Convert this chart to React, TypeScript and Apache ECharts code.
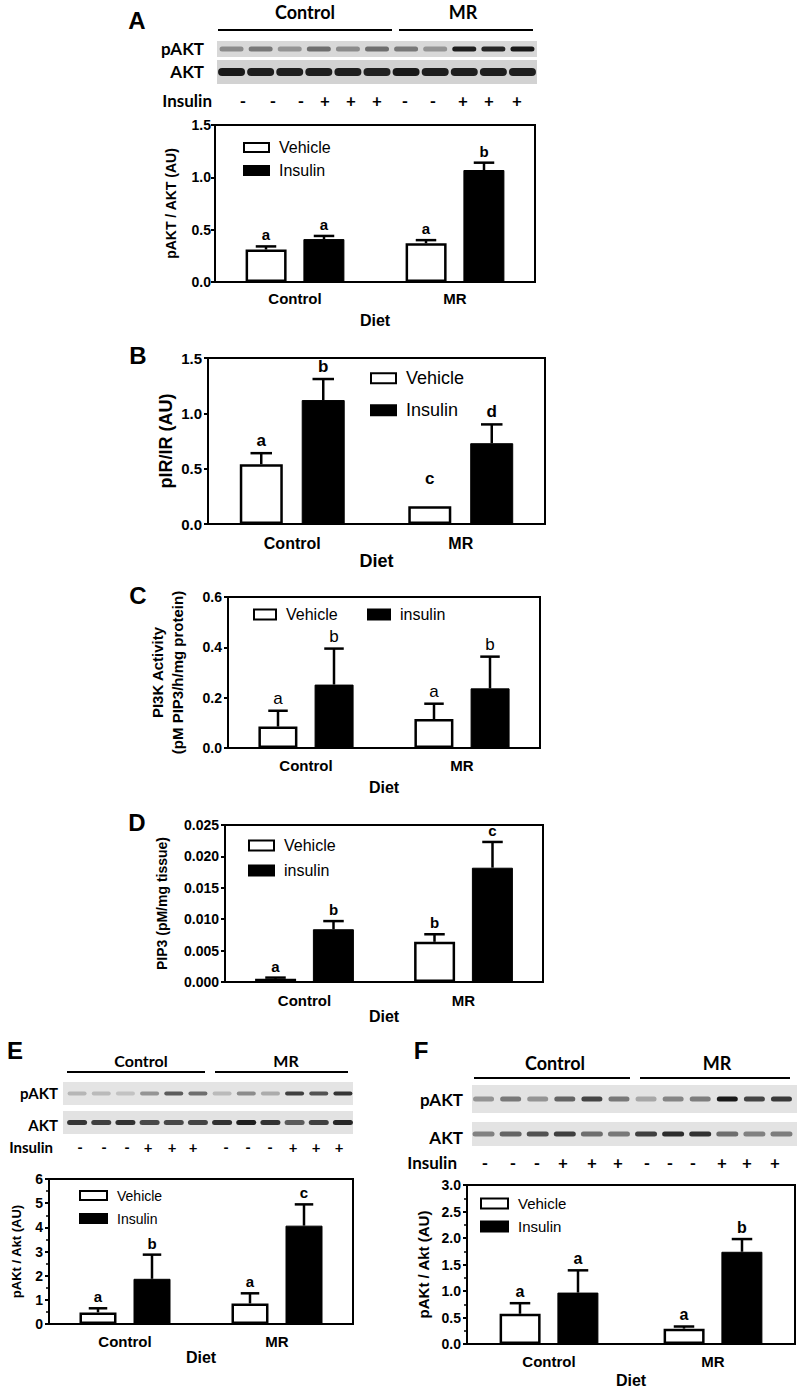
import React, { useEffect, useRef } from 'react';
import * as echarts from 'echarts';

const categories = ['Control', 'MR'];

// Panel A
const aVehicle = [0.31, 0.37];
const aVehicleErr = [0.34, 0.40];
const aInsulin = [0.41, 1.07];
const aInsulinErr = [0.44, 1.14];
const aVehicleLetters = ['a', 'a'];
const aInsulinLetters = ['a', 'b'];
const aTicks = [0, 0.5, 1.0, 1.5];

// Panel B
const bVehicle = [0.54, 0.16];
const bVehicleErr = [0.64, 0.16];
const bVehicleLetterAt = [0.64, 0.30];
const bInsulin = [1.12, 0.73];
const bInsulinErr = [1.31, 0.90];
const bVehicleLetters = ['a', 'c'];
const bInsulinLetters = ['b', 'd'];
const bTicks = [0, 0.5, 1.0, 1.5];

// Panel C
const cVehicle = [0.085, 0.115];
const cVehicleErr = [0.148, 0.176];
const cInsulin = [0.252, 0.237];
const cInsulinErr = [0.395, 0.363];
const cVehicleLetters = ['a', 'a'];
const cInsulinLetters = ['b', 'b'];
const cTicks = [0, 0.2, 0.4, 0.6];

// Panel D
const dVehicle = [0.0005, 0.0064];
const dVehicleErr = [0.0007, 0.0076];
const dInsulin = [0.0084, 0.0182];
const dInsulinErr = [0.0097, 0.0223];
const dVehicleLetters = ['a', 'b'];
const dInsulinLetters = ['b', 'c'];
const dTicks = [0, 0.005, 0.01, 0.015, 0.02, 0.025];

// Panel E
const eVehicle = [0.48, 0.85];
const eVehicleErr = [0.65, 1.27];
const eInsulin = [1.87, 4.07];
const eInsulinErr = [2.87, 4.95];
const eVehicleLetters = ['a', 'a'];
const eInsulinLetters = ['b', 'c'];
const eTicks = [0, 1, 2, 3, 4, 5, 6];

// Panel F
const fVehicle = [0.57, 0.29];
const fVehicleErr = [0.77, 0.33];
const fInsulin = [0.97, 1.74];
const fInsulinErr = [1.39, 1.98];
const fVehicleLetters = ['a', 'a'];
const fInsulinLetters = ['a', 'b'];
const fTicks = [0, 0.5, 1.0, 1.5, 2.0, 2.5, 3.0];

// Western blot band intensities (0..1) and insulin treatment per lane
const aPAKT = [0.35, 0.45, 0.3, 0.5, 0.35, 0.5, 0.45, 0.3, 0.92, 0.88, 0.95];
const aAKT = [0.95, 0.92, 0.92, 0.92, 0.92, 0.9, 0.95, 0.92, 0.92, 0.92, 0.92];
const aInsulinSigns = ['-', '-', '-', '+', '+', '+', '-', '-', '+', '+', '+'];
const ePAKT = [0.12, 0.1, 0.06, 0.3, 0.6, 0.5, 0.1, 0.35, 0.18, 0.75, 0.65, 0.8];
const eAKT = [0.8, 0.75, 0.82, 0.7, 0.7, 0.72, 0.82, 0.92, 0.82, 0.6, 0.75, 0.88];
const efInsulinSigns = ['-', '-', '-', '+', '+', '+', '-', '-', '-', '+', '+', '+'];
const fPAKT = [0.3, 0.45, 0.3, 0.55, 0.72, 0.45, 0.2, 0.38, 0.42, 0.95, 0.72, 0.78];
const fAKT = [0.4, 0.55, 0.65, 0.75, 0.5, 0.45, 0.75, 0.85, 0.82, 0.5, 0.4, 0.42];

const FONT = '"Liberation Sans", Arial, sans-serif';
const BFONT = 'Lato, "Open Sans", sans-serif';

type Panel = {
  grid: { left: number; top: number; width: number; height: number };
  veh: number[]; vehErr: number[]; ins: number[]; insErr: number[];
  vehLet: string[]; insLet: string[]; vehLetAt?: number[];
  ticks: number[]; decimals: number;
  yName: string; yNameGap: number; yNameSize: number; yNameLH?: number;
  insName: string; barW: number; gap: number;
  letSize: number; letWeight: string;
  legend: { x1: number; y1: number; x2: number; y2: number; size: number; iw: number; ih: number };
  tickFont: number; labelMargin: number; xFont: number; xNameGap: number; xNameSize: number;
  minor: boolean; yLabelMargin: number;
};

const panels: Panel[] = [
  {
    grid: { left: 215, top: 125, width: 320, height: 157 },
    veh: aVehicle, vehErr: aVehicleErr, ins: aInsulin, insErr: aInsulinErr,
    vehLet: aVehicleLetters, insLet: aInsulinLetters, ticks: aTicks, decimals: 1,
    yName: 'pAKT / AKT (AU)', yNameGap: 36, yNameSize: 14, insName: 'Insulin', barW: 41, gap: 17,
    letSize: 15, letWeight: 'bold',
    legend: { x1: 243, y1: 149, x2: 243, y2: 172, size: 16, iw: 25, ih: 9 },
    tickFont: 14, labelMargin: 9, xFont: 15, xNameGap: 30, xNameSize: 16, minor: false, yLabelMargin: 4,
  },
  {
    grid: { left: 208, top: 358, width: 337, height: 166 },
    veh: bVehicle, vehErr: bVehicleErr, ins: bInsulin, insErr: bInsulinErr,
    vehLet: bVehicleLetters, insLet: bInsulinLetters, vehLetAt: bVehicleLetterAt, ticks: bTicks, decimals: 1,
    yName: 'pIR/IR (AU)', yNameGap: 27, yNameSize: 18, insName: 'Insulin', barW: 43, gap: 19,
    letSize: 17, letWeight: 'bold',
    legend: { x1: 370, y1: 380, x2: 370, y2: 412, size: 18, iw: 25, ih: 10 },
    tickFont: 15, labelMargin: 11, xFont: 16, xNameGap: 21, xNameSize: 18, minor: false, yLabelMargin: 6,
  },
  {
    grid: { left: 228, top: 597, width: 312, height: 151 },
    veh: cVehicle, vehErr: cVehicleErr, ins: cInsulin, insErr: cInsulinErr,
    vehLet: cVehicleLetters, insLet: cInsulinLetters, ticks: cTicks, decimals: 1,
    yName: 'PI3K Activity\n(pM PIP3/h/mg protein)', yNameGap: 41, yNameSize: 15, yNameLH: 20,
    insName: 'insulin', barW: 39, gap: 17,
    letSize: 17, letWeight: 'normal',
    legend: { x1: 253, y1: 616, x2: 367, y2: 616, size: 16, iw: 22, ih: 10 },
    tickFont: 14, labelMargin: 10, xFont: 15, xNameGap: 31, xNameSize: 16, minor: false, yLabelMargin: 6,
  },
  {
    grid: { left: 225, top: 825, width: 318, height: 157 },
    veh: dVehicle, vehErr: dVehicleErr, ins: dInsulin, insErr: dInsulinErr,
    vehLet: dVehicleLetters, insLet: dInsulinLetters, ticks: dTicks, decimals: 3,
    yName: 'PIP3 (pM/mg tissue)', yNameGap: 55, yNameSize: 14, insName: 'insulin', barW: 41, gap: 17,
    letSize: 15, letWeight: 'bold',
    legend: { x1: 248, y1: 847, x2: 248, y2: 872, size: 16, iw: 25, ih: 10 },
    tickFont: 14, labelMargin: 11, xFont: 15, xNameGap: 20, xNameSize: 16, minor: false, yLabelMargin: 6,
  },
  {
    grid: { left: 49, top: 1179, width: 304, height: 145 },
    veh: eVehicle, vehErr: eVehicleErr, ins: eInsulin, insErr: eInsulinErr,
    vehLet: eVehicleLetters, insLet: eInsulinLetters, ticks: eTicks, decimals: 0,
    yName: 'pAKt / Akt (AU)', yNameGap: 25, yNameSize: 13, insName: 'Insulin', barW: 37, gap: 17,
    letSize: 15, letWeight: 'bold',
    legend: { x1: 79, y1: 1197, x2: 79, y2: 1220, size: 14, iw: 27, ih: 9 },
    tickFont: 14, labelMargin: 10, xFont: 15, xNameGap: 25, xNameSize: 16, minor: true, yLabelMargin: 6,
  },
  {
    grid: { left: 467, top: 1185, width: 328, height: 161 },
    veh: fVehicle, vehErr: fVehicleErr, ins: fInsulin, insErr: fInsulinErr,
    vehLet: fVehicleLetters, insLet: fInsulinLetters, ticks: fTicks, decimals: 1,
    yName: 'pAKt / Akt (AU)', yNameGap: 35, yNameSize: 15, insName: 'Insulin', barW: 41, gap: 17,
    letSize: 16, letWeight: 'bold',
    legend: { x1: 480, y1: 1205, x2: 480, y2: 1228, size: 15, iw: 27, ih: 10 },
    tickFont: 14, labelMargin: 10, xFont: 15, xNameGap: 28, xNameSize: 16, minor: true, yLabelMargin: 6,
  },
];

function blotStrip(x: number, y: number, w: number, h: number, vals: number[], bandW: number, bandH: number, bg: string, offset = 0) {
  const els: any[] = [{ type: 'rect', shape: { x, y, width: w, height: h }, style: { fill: bg } }];
  const step = w / vals.length;
  vals.forEach((v, i) => {
    const g = Math.round(205 - 190 * v);
    els.push({
      type: 'rect',
      shape: { x: x + offset + (i + 0.5) * step - bandW / 2, y: y + h / 2 - bandH / 2, width: bandW, height: bandH, r: bandH / 2 },
      style: { fill: `rgb(${g},${g},${g})` },
    });
  });
  return els;
}

function txt(text: string, x: number, y: number, size: number, opts: any = {}) {
  return {
    type: 'text', x, y,
    style: {
      text, fontSize: size, fontWeight: opts.weight || 'bold', fontFamily: opts.family || BFONT,
      fill: '#000', align: opts.align || 'center', verticalAlign: 'middle',
    },
  };
}

function hline(x1: number, x2: number, y: number, w = 2) {
  return { type: 'line', shape: { x1, y1: y, x2, y2: y }, style: { stroke: '#000', lineWidth: w } };
}

function buildGraphic() {
  const els: any[] = [];
  // Panel letters
  els.push(txt('A', 137, 20, 24, { family: FONT }));
  els.push(txt('B', 138, 355, 24, { family: FONT }));
  els.push(txt('C', 138, 595, 24, { family: FONT }));
  els.push(txt('D', 137, 822, 24, { family: FONT }));
  els.push(txt('E', 15, 1050, 24, { family: FONT }));
  els.push(txt('F', 421, 1050, 24, { family: FONT }));

  // Blot A
  els.push(txt('Control', 305, 12, 18));
  els.push(txt('MR', 463, 12, 18));
  els.push(hline(218, 392, 30));
  els.push(hline(399, 533, 30));
  els.push(...blotStrip(217, 41, 320, 16, aPAKT, 24, 5, '#d8d8d8'));
  els.push(...blotStrip(217, 60, 320, 24, aAKT, 27, 8, '#d2d2d2'));
  els.push(txt('pAKT', 204, 48, 17, { align: 'right' }));
  els.push(txt('AKT', 204, 71, 17, { align: 'right' }));
  els.push(txt('Insulin', 212, 100, 17, { align: 'right' }));
  const aSignX = [243, 273, 301, 325, 351, 377, 405, 433, 463, 489, 517];
  aInsulinSigns.forEach((s, i) => els.push(txt(s, aSignX[i], 100, 17)));

  // Blot E
  els.push(txt('Control', 141, 1060, 16));
  els.push(txt('MR', 286, 1060, 16));
  els.push(hline(67, 205, 1072));
  els.push(hline(215, 348, 1072));
  els.push(...blotStrip(63, 1082, 290, 23, ePAKT, 19, 4, '#e4e4e4', 2));
  els.push(...blotStrip(63, 1111, 290, 23, eAKT, 20, 5, '#e2e2e2', 2));
  els.push(txt('pAKT', 58, 1093, 15, { align: 'right' }));
  els.push(txt('AKT', 58, 1125, 15, { align: 'right' }));
  els.push(txt('Insulin', 53, 1147, 15, { align: 'right' }));
  const eSignX = [80, 104, 127, 148, 172, 193, 226, 248, 270, 293, 316, 339];
  efInsulinSigns.forEach((s, i) => els.push(txt(s, eSignX[i], 1147, 15)));

  // Blot F
  els.push(txt('Control', 555, 1063, 18));
  els.push(txt('MR', 717, 1063, 18));
  els.push(hline(474, 630, 1078));
  els.push(hline(640, 790, 1078));
  els.push(...blotStrip(472, 1085, 325, 28, fPAKT, 21, 5, '#e3e3e3', -2));
  els.push(...blotStrip(472, 1122, 325, 24, fAKT, 22, 5, '#e3e3e3', -2));
  els.push(txt('pAKT', 463, 1099, 17, { align: 'right' }));
  els.push(txt('AKT', 463, 1137, 17, { align: 'right' }));
  els.push(txt('Insulin', 457, 1162, 17, { align: 'right' }));
  const fSignX = [485, 513, 537, 563, 592, 618, 647, 670, 693, 722, 747, 775];
  efInsulinSigns.forEach((s, i) => els.push(txt(s, fSignX[i], 1162, 17)));
  return els;
}

function buildOption() {
  const grid: any[] = [];
  const xAxis: any[] = [];
  const yAxis: any[] = [];
  const series: any[] = [];
  const legend: any[] = [];

  panels.forEach((p, i) => {
    grid.push({ ...p.grid, show: true, borderColor: '#000', borderWidth: 2, backgroundColor: 'transparent', containLabel: false });
    xAxis.push({
      type: 'category', gridIndex: i, data: categories,
      axisLine: { lineStyle: { color: '#000', width: 2 } },
      axisTick: { alignWithLabel: true, length: 4, lineStyle: { color: '#000', width: 2 } },
      axisLabel: { color: '#000', fontWeight: 'bold', fontSize: p.xFont, fontFamily: FONT, margin: p.labelMargin },
      name: 'Diet', nameLocation: 'middle', nameGap: p.xNameGap,
      nameTextStyle: { color: '#000', fontWeight: 'bold', fontSize: p.xNameSize, fontFamily: FONT },
    });
    const mn = p.ticks[0];
    const mx = p.ticks[p.ticks.length - 1];
    const iv = p.ticks[1] - p.ticks[0];
    yAxis.push({
      type: 'value', gridIndex: i, min: mn, max: mx, interval: iv,
      axisLine: { show: true, lineStyle: { color: '#000', width: 2 } },
      axisTick: { show: true, length: 4, lineStyle: { color: '#000', width: 2 } },
      minorTick: { show: p.minor, splitNumber: 2, length: 3, lineStyle: { color: '#000', width: 1.5 } },
      splitLine: { show: false },
      axisLabel: {
        color: '#000', fontWeight: 'bold', fontSize: p.tickFont, fontFamily: FONT, margin: p.yLabelMargin,
        formatter: (v: number) => v.toFixed(p.decimals),
      },
      name: p.yName, nameLocation: 'middle', nameGap: p.yNameGap,
      nameTextStyle: { color: '#000', fontWeight: 'bold', fontSize: p.yNameSize, fontFamily: FONT, lineHeight: p.yNameLH || p.yNameSize * 1.2, align: 'center' },
    });
    const gapPct = Math.round((p.gap / p.barW) * 100) + '%';
    series.push({
      type: 'bar', name: 'Vehicle', xAxisIndex: i, yAxisIndex: i, data: p.veh,
      barWidth: p.barW, barGap: gapPct,
      itemStyle: { color: '#fff', borderColor: '#000', borderWidth: 2.5 },
    });
    series.push({
      type: 'bar', name: p.insName, xAxisIndex: i, yAxisIndex: i, data: p.ins,
      barWidth: p.barW, barGap: gapPct,
      itemStyle: { color: '#000', borderColor: '#000', borderWidth: 1 },
    });
    const half = (p.barW + p.gap) / 2;
    const groups = [
      { mean: p.veh, top: p.vehErr, lets: p.vehLet, at: p.vehLetAt || p.vehErr, off: -half },
      { mean: p.ins, top: p.insErr, lets: p.insLet, at: p.insErr, off: half },
    ];
    groups.forEach((g) => {
      series.push({
        type: 'custom', xAxisIndex: i, yAxisIndex: i, z: 5,
        data: categories.map((_, ci) => [ci, g.top[ci], g.mean[ci], g.at[ci]]),
        renderItem: (params: any, api: any) => {
          const ci = api.value(0);
          const t = api.coord([ci, api.value(1)]);
          const b = api.coord([ci, api.value(2)]);
          const l = api.coord([ci, api.value(3)]);
          const x = t[0] + g.off;
          const cap = p.barW * 0.5;
          const children: any[] = [];
          if (b[1] - t[1] > 1) {
            children.push({ type: 'line', shape: { x1: x, y1: b[1], x2: x, y2: t[1] }, style: { stroke: '#000', lineWidth: 2.5 } });
            children.push({ type: 'line', shape: { x1: x - cap / 2, y1: t[1], x2: x + cap / 2, y2: t[1] }, style: { stroke: '#000', lineWidth: 2.5 } });
          }
          children.push({
            type: 'text',
            style: {
              text: g.lets[params.dataIndex], x, y: Math.min(l[1], t[1]) - 4,
              align: 'center', verticalAlign: 'bottom', fontSize: p.letSize, fontWeight: p.letWeight,
              fontFamily: FONT, fill: '#000',
            },
          });
          return { type: 'group', children };
        },
      });
    });
    const L = p.legend;
    const mk = (name: string, x: number, y: number) => ({
      data: [name], left: x, top: y - L.size * 0.6, orient: 'vertical', padding: 0, icon: 'rect',
      itemWidth: L.iw, itemHeight: L.ih, selectedMode: false,
      textStyle: { fontSize: L.size, fontFamily: FONT, color: '#000', padding: [0, 0, 0, 5] },
    });
    legend.push(mk('Vehicle', L.x1, L.y1));
    legend.push(mk(p.insName, L.x2, L.y2));
  });

  return {
    animation: false,
    backgroundColor: '#fff',
    grid, xAxis, yAxis, series, legend,
    graphic: { elements: buildGraphic() },
  };
}

export default function App() {
  const ref = useRef<HTMLDivElement>(null);
  useEffect(() => {
    document.body.style.margin = '0';
    if (!ref.current) return;
    const chart = echarts.init(ref.current, undefined, { renderer: 'svg' });
    chart.setOption(buildOption() as any);
    return () => chart.dispose();
  }, []);
  return <div ref={ref} style={{ width: 797, height: 1389 }} />;
}
